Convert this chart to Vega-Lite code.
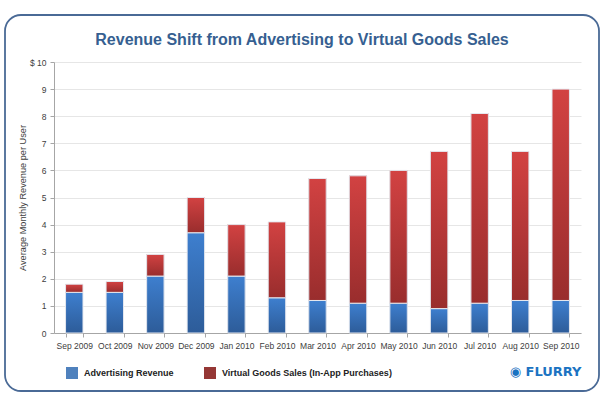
{
  "$schema": "https://vega.github.io/schema/vega-lite/v6.json",
  "autosize": "none",
  "width": 594,
  "height": 376,
  "padding": {"left": 5, "top": 15, "right": 6, "bottom": 6},
  "background": "white",
  "title": {
    "text": "Revenue Shift from Advertising to Virtual Goods Sales",
    "font": "Liberation Sans",
    "fontSize": 16,
    "fontWeight": "bold",
    "color": "#365F91",
    "anchor": "middle",
    "frame": "group",
    "baseline": "middle",
    "offset": -41
  },
  "data": {
    "values": [
      {"month": "Sep 2009", "series": "Advertising Revenue", "value": 1.5},
      {"month": "Sep 2009", "series": "Virtual Goods Sales (In-App Purchases)", "value": 0.3},
      {"month": "Oct 2009", "series": "Advertising Revenue", "value": 1.5},
      {"month": "Oct 2009", "series": "Virtual Goods Sales (In-App Purchases)", "value": 0.4},
      {"month": "Nov 2009", "series": "Advertising Revenue", "value": 2.1},
      {"month": "Nov 2009", "series": "Virtual Goods Sales (In-App Purchases)", "value": 0.8},
      {"month": "Dec 2009", "series": "Advertising Revenue", "value": 3.7},
      {"month": "Dec 2009", "series": "Virtual Goods Sales (In-App Purchases)", "value": 1.3},
      {"month": "Jan 2010", "series": "Advertising Revenue", "value": 2.1},
      {"month": "Jan 2010", "series": "Virtual Goods Sales (In-App Purchases)", "value": 1.9},
      {"month": "Feb 2010", "series": "Advertising Revenue", "value": 1.3},
      {"month": "Feb 2010", "series": "Virtual Goods Sales (In-App Purchases)", "value": 2.8},
      {"month": "Mar 2010", "series": "Advertising Revenue", "value": 1.2},
      {"month": "Mar 2010", "series": "Virtual Goods Sales (In-App Purchases)", "value": 4.5},
      {"month": "Apr 2010", "series": "Advertising Revenue", "value": 1.1},
      {"month": "Apr 2010", "series": "Virtual Goods Sales (In-App Purchases)", "value": 4.7},
      {"month": "May 2010", "series": "Advertising Revenue", "value": 1.1},
      {"month": "May 2010", "series": "Virtual Goods Sales (In-App Purchases)", "value": 4.9},
      {"month": "Jun 2010", "series": "Advertising Revenue", "value": 0.9},
      {"month": "Jun 2010", "series": "Virtual Goods Sales (In-App Purchases)", "value": 5.8},
      {"month": "Jul 2010", "series": "Advertising Revenue", "value": 1.1},
      {"month": "Jul 2010", "series": "Virtual Goods Sales (In-App Purchases)", "value": 7.0},
      {"month": "Aug 2010", "series": "Advertising Revenue", "value": 1.2},
      {"month": "Aug 2010", "series": "Virtual Goods Sales (In-App Purchases)", "value": 5.5},
      {"month": "Sep 2010", "series": "Advertising Revenue", "value": 1.2},
      {"month": "Sep 2010", "series": "Virtual Goods Sales (In-App Purchases)", "value": 7.8}
    ]
  },
  "encoding": {
    "x": {
      "field": "month",
      "type": "nominal",
      "sort": null,
      "scale": {"paddingInner": 0.57, "paddingOuter": 0.285, "range": [49, 576]},
      "axis": {
        "offset": -58,
        "title": "◉ FLURRY",
        "titleAnchor": "end",
        "titleAlign": "right",
        "titleBaseline": "middle",
        "titleY": 38,
        "titleFont": "DejaVu Sans",
        "titleFontSize": 13,
        "titleFontWeight": "bold",
        "titleColor": "#1B73C2",
        "labelAngle": 0,
        "labelFont": "Liberation Sans",
        "labelFontSize": 8.5,
        "labelColor": "#404040",
        "labelPadding": 4,
        "tickBand": "extent",
        "tickColor": "#A6A6A6",
        "tickSize": 4,
        "domainColor": "#A6A6A6"
      }
    },
    "y": {
      "field": "value",
      "type": "quantitative",
      "stack": "zero",
      "scale": {"domain": [0, 10], "range": [318, 47]},
      "axis": {
        "offset": -49,
        "title": "Average Monthly Revenue per User",
        "titleFont": "Liberation Sans",
        "titleFontSize": 9.2,
        "titleFontWeight": "normal",
        "titleColor": "#404040",
        "titlePadding": 2,
        "values": [0, 1, 2, 3, 4, 5, 6, 7, 8, 9, 10],
        "labelExpr": "datum.value == 10 ? '$ 10' : datum.label",
        "labelFont": "Liberation Sans",
        "labelFontSize": 8.5,
        "labelColor": "#404040",
        "labelPadding": 4,
        "tickColor": "#A6A6A6",
        "tickSize": 4,
        "domainColor": "#A6A6A6",
        "gridColor": "#E6E6E6"
      }
    },
    "order": {"field": "series", "sort": "ascending"}
  },
  "layer": [
    {
      "mark": {"type": "bar"},
      "encoding": {
        "color": {
          "field": "series",
          "type": "nominal",
          "scale": {
            "domain": ["Advertising Revenue", "Virtual Goods Sales (In-App Purchases)"],
            "range": ["#4F81BD", "#953735"]
          },
          "legend": {
            "title": null,
            "orient": "none",
            "direction": "horizontal",
            "legendX": 61,
            "legendY": 352,
            "symbolType": "square",
            "symbolSize": 144,
            "symbolStrokeWidth": 0,
            "symbolOpacity": 1,
            "labelFont": "Liberation Sans",
            "labelFontSize": 9,
            "labelFontWeight": "bold",
            "labelColor": "#222222",
            "labelOffset": 6,
            "columnPadding": 30,
            "labelLimit": 300
          }
        }
      }
    },
    {
      "mark": {"type": "bar", "stroke": "#E6E9F0", "strokeWidth": 1},
      "encoding": {
        "detail": {"field": "series"},
        "color": {
          "condition": {
            "test": "datum.series == 'Advertising Revenue'",
            "value": {"gradient": "linear", "x1": 0, "y1": 0, "x2": 0, "y2": 1, "stops": [{"offset": 0, "color": "#3E7FCF"}, {"offset": 1, "color": "#2D5C99"}]}
          },
          "value": {"gradient": "linear", "x1": 0, "y1": 0, "x2": 0, "y2": 1, "stops": [{"offset": 0, "color": "#D24242"}, {"offset": 1, "color": "#992D2D"}]}
        }
      }
    }
  ],
  "config": {
    "view": {"stroke": "#4A6A96", "strokeWidth": 1.8, "cornerRadius": 16, "fill": "white"}
  }
}
